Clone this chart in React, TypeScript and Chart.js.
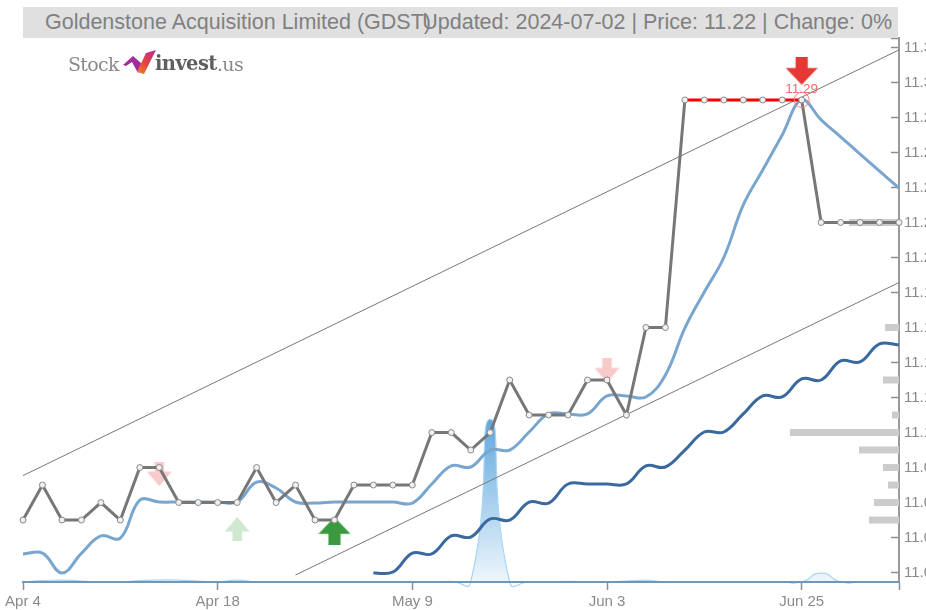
import React, { useEffect, useRef } from "react";
import { Chart, registerables } from "chart.js";

Chart.register(...registerables);

const categories = ["Apr 4","Apr 5","Apr 8","Apr 9","Apr 10","Apr 11","Apr 12","Apr 15","Apr 16","Apr 17","Apr 18","Apr 19","Apr 22","Apr 23","Apr 24","Apr 25","Apr 26","Apr 29","Apr 30","May 1","May 9","May 10","May 13","May 14","May 15","May 16","May 17","May 20","May 21","May 22","Jun 3","Jun 4","Jun 5","Jun 6","Jun 7","Jun 10","Jun 11","Jun 12","Jun 13","Jun 14","Jun 25","Jun 26","Jun 27","Jun 28","Jul 1","Jul 2"];
const labelledDates = ["Apr 4", "Apr 18", "May 9", "Jun 3", "Jun 25"];
const lastDate = "Jul 2";

const price = [11.05,11.07,11.05,11.05,11.06,11.05,11.08,11.08,11.06,11.06,11.06,11.06,11.08,11.06,11.07,11.05,11.05,11.07,11.07,11.07,11.07,11.10,11.10,11.09,11.10,11.13,11.11,11.11,11.11,11.13,11.13,11.11,11.16,11.16,11.29,11.29,11.29,11.29,11.29,11.29,11.29,11.22,11.22,11.22,11.22,11.22];
const fastAverage = [11.0306,11.0311,11.0197,11.031,11.0409,11.0397,11.0614,11.0603,11.0603,11.0603,11.0603,11.0603,11.0717,11.0683,11.0603,11.0597,11.0603,11.0603,11.0603,11.0603,11.0597,11.0706,11.0809,11.0803,11.09,11.09,11.1003,11.1106,11.1106,11.1106,11.1209,11.1209,11.1203,11.1329,11.1597,11.1803,11.2,11.23,11.25,11.27,11.29,11.2786,11.2689,11.2591,11.2494,11.2397];
const slowAverage = [null,null,null,null,null,null,null,null,null,null,null,null,null,null,null,null,null,null,11.0197,11.0203,11.0311,11.0306,11.0409,11.0403,11.0506,11.05,11.0603,11.0597,11.0706,11.0706,11.0706,11.0706,11.0809,11.0803,11.09,11.1003,11.1003,11.1106,11.1209,11.1203,11.1306,11.13,11.1409,11.1403,11.1506,11.15];
const upperChannelEnds: Record<string, number> = { "Apr 4": 11.0754, "Jul 2": 11.3186 };
const lowerChannelEnds: Record<string, number> = { "Apr 24": 11.0186, "Jul 2": 11.1857 };
const volume = [0,0.008,0.012,0.006,0,0,0.008,0.012,0.012,0.006,0,0.012,0,0,0,0,0,0,0,0,0,0,0.004,0,1,0,0,0,0.004,0,0,0.006,0.01,0,0,0,0,0,0,0,0,0.055,0,0,0,0];

const yTicks = [11.32,11.30,11.28,11.26,11.24,11.22,11.20,11.18,11.16,11.14,11.12,11.10,11.08,11.06,11.04,11.02];
const yMin = 11.0146;
const yMax = 11.3254;

const profilePrices = [11.22,11.16,11.13,11.11,11.10,11.09,11.08,11.07,11.06,11.05];
const profileVolumes = [50,14,16,7,109,40,16,11,25,30];

const peakDate = "Jun 25";
const peakPrice = 11.29;
const peakLabel = "11.29";
const signals = [
  { date: "Apr 15", value: 11.0763, up: false, color: "#f8caca" },
  { date: "Jun 3", value: 11.1355, up: false, color: "#f8caca" },
  { date: "Apr 19", value: 11.0449, up: true, color: "#cfe8d0" },
  { date: "Apr 26", value: 11.0437, up: true, color: "#3b9a3f" },
  { date: "Jun 25", value: 11.3067, up: false, color: "#e53935" },
];
const signalSizes = [[25, 24], [25, 24], [25, 24], [32, 28], [32, 28]];

const title = "Goldenstone Acquisition Limited (GDST)";
const subtitle = "Updated: 2024-07-02 | Price: 11.22 | Change: 0%";

function arrowCanvas(w: number, h: number, up: boolean, color: string) {
  const c = document.createElement("canvas");
  c.width = w;
  c.height = h;
  const g = c.getContext("2d")!;
  if (up) {
    g.translate(0, h);
    g.scale(1, -1);
  }
  const stem = w * 0.38;
  const shoulder = h * 0.4;
  g.fillStyle = color;
  g.beginPath();
  g.moveTo((w - stem) / 2, 0);
  g.lineTo((w + stem) / 2, 0);
  g.lineTo((w + stem) / 2, shoulder);
  g.lineTo(w, shoulder);
  g.lineTo(w / 2, h);
  g.lineTo(0, shoulder);
  g.lineTo((w - stem) / 2, shoulder);
  g.closePath();
  g.fill();
  return c;
}

const peakLabelPlugin = {
  id: "peakLabel",
  afterDatasetsDraw(chart: any) {
    const { ctx, scales } = chart;
    ctx.save();
    ctx.font = "13.5px 'Liberation Sans'";
    ctx.fillStyle = "#f66a6a";
    ctx.textAlign = "center";
    ctx.textBaseline = "middle";
    ctx.fillText(peakLabel, scales.x.getPixelForValue(categories.indexOf(peakDate)), scales.y.getPixelForValue(peakPrice) - 11);
    ctx.restore();
  },
};

export default function App() {
  const ref = useRef<HTMLCanvasElement>(null);

  useEffect(() => {
    document.body.style.margin = "0";
    const canvas = ref.current!;
    const profileSets = profilePrices.map((p, i) => ({
      type: "line",
      xAxisID: "profile",
      yAxisID: "y",
      data: [{ x: 0, y: p }, { x: profileVolumes[i], y: p }],
      borderColor: "#cccccc",
      borderWidth: 7,
      borderCapStyle: "butt",
      pointRadius: 0,
      tension: 0,
      clip: false,
    }));
    const signalSets = signals.map((s, i) => ({
      type: "line",
      xAxisID: "x",
      yAxisID: "y",
      data: categories.map((c) => (c === s.date ? s.value : null)),
      showLine: false,
      pointStyle: arrowCanvas(signalSizes[i][0], signalSizes[i][1], s.up, s.color),
      pointRadius: 10,
      clip: false,
    }));
    const chart = new Chart(canvas, {
      data: {
        labels: categories,
        datasets: [
          signalSets[4],
          {
            type: "line",
            data: categories.map((c) => (c === peakDate ? peakPrice : null)),
            showLine: false,
            pointRadius: 7.5,
            pointBackgroundColor: "rgba(0,0,0,0)",
            pointBorderColor: "#f47c7c",
            pointBorderWidth: 1,
          },
          {
            type: "line",
            label: "Price",
            data: price,
            borderColor: "#777777",
            borderWidth: 3,
            tension: 0,
            pointRadius: 3,
            pointBackgroundColor: "#f0f0f0",
            pointBorderColor: "#888888",
            pointBorderWidth: 1,
            segment: {
              borderColor: (ctx: any) => (price[ctx.p0DataIndex] === peakPrice && price[ctx.p1DataIndex] === peakPrice ? "#ff0000" : undefined),
            },
            clip: false,
          },
          {
            type: "line",
            label: "Fast",
            data: fastAverage,
            borderColor: "#79a6cf",
            borderWidth: 3,
            tension: 0.4,
            pointRadius: 0,
          },
          {
            type: "line",
            label: "Slow",
            data: slowAverage,
            borderColor: "#39699e",
            borderWidth: 3,
            tension: 0.4,
            pointRadius: 0,
          },
          {
            type: "line",
            label: "Upper",
            data: categories.map((c) => upperChannelEnds[c] ?? null),
            spanGaps: true,
            borderColor: "#777777",
            borderWidth: 1,
            pointRadius: 0,
            tension: 0,
            clip: false,
          },
          {
            type: "line",
            label: "Lower",
            data: categories.map((c) => lowerChannelEnds[c] ?? null),
            spanGaps: true,
            borderColor: "#777777",
            borderWidth: 1,
            pointRadius: 0,
            tension: 0,
            clip: false,
          },
          signalSets[0],
          signalSets[1],
          signalSets[2],
          signalSets[3],
          {
            type: "line",
            label: "Volume",
            yAxisID: "vol",
            data: volume,
            borderColor: "#a9d6f5",
            borderWidth: 1.2,
            tension: 0.62,
            capBezierPoints: false,
            pointRadius: 0,
            fill: "origin",
            clip: false,
            backgroundColor: (ctx: any) => {
              const { chart: ch } = ctx;
              const area = ch.chartArea;
              if (!area) return "rgba(90,165,220,0.4)";
              const top = ch.scales.vol.getPixelForValue(1);
              const g = ch.ctx.createLinearGradient(0, top, 0, area.bottom);
              g.addColorStop(0, "#5fa8de");
              g.addColorStop(1, "#eef6fc");
              return g;
            },
          },
          ...profileSets,
        ] as any,
      },
      options: {
        animation: false,
        responsive: false,
        layout: { padding: { left: 23, top: 38, right: 0, bottom: 0 } },
        plugins: { legend: { display: false }, title: { display: false }, tooltip: { enabled: false } },
        scales: {
          x: {
            type: "category",
            offset: false,
            border: { color: "#6d97bb", width: 2, z: 2 },
            grid: { drawOnChartArea: false, tickLength: 8, color: "#8f8f8f", tickWidth: 1.5 },
            ticks: {
              autoSkip: false,
              maxRotation: 0,
              padding: 3,
              color: "#8a8a8a",
              font: { family: "'Liberation Sans'", size: 15 },
              callback: (_v: any, i: number, t: any) => {
                const label = categories[t[i].value];
                return labelledDates.includes(label) ? label : "";
              },
            },
            afterBuildTicks: (s: any) => {
              s.ticks = categories
                .map((c, i) => ({ value: i, c }))
                .filter((t) => labelledDates.includes(t.c) || t.c === lastDate)
                .map((t) => ({ value: t.value }));
            },
            afterFit: (s: any) => {
              s.height = 28;
            },
          },
          y: {
            position: "right",
            min: yMin,
            max: yMax,
            border: { color: "#9a9a9a", width: 2 },
            grid: { drawOnChartArea: false, tickLength: -8, color: "#8f8f8f", tickWidth: 1.5 },
            ticks: {
              padding: 13,
              color: "#8a8a8a",
              font: { family: "'Liberation Sans'", size: 15 },
              callback: (v: any) => (v === yMax ? "" : Number(v).toFixed(2)),
            },
            afterBuildTicks: (s: any) => {
              s.ticks = [yMax, ...yTicks].map((value) => ({ value }));
            },
            afterFit: (s: any) => {
              s.width = 27;
            },
          },
          vol: { display: false, min: 0, max: 3.34 },
          profile: { display: false, type: "linear", reverse: true, min: 0, max: 875 },
        },
      } as any,
      plugins: [peakLabelPlugin],
    });
    return () => chart.destroy();
  }, []);

  return (
    <div style={{ position: "relative", width: 926, height: 610, overflow: "hidden" }}>
      <canvas ref={ref} width={926} height={610} style={{ position: "absolute", left: 0, top: 0, display: "block" }} />
      <div style={{ position: "absolute", left: 23, top: 7, width: 875, height: 31, background: "#e0e0e0" }} />
      <div style={{ position: "absolute", left: 45, top: 7, font: "21.5px 'Liberation Sans'", lineHeight: "31px", color: "#808080", whiteSpace: "nowrap" }}>{title}</div>
      <div style={{ position: "absolute", right: 34, top: 7, font: "21.5px 'Liberation Sans'", lineHeight: "31px", color: "#808080", whiteSpace: "nowrap" }}>{subtitle}</div>
      <div style={{ position: "absolute", left: 68, top: 52, height: 24, whiteSpace: "nowrap", color: "#8a8a8a" }}>
        <span style={{ position: "absolute", left: 0, font: "19px 'DejaVu Serif'", lineHeight: "24px", letterSpacing: -0.7 }}>Stock</span>
        <svg style={{ position: "absolute", left: 55, top: -2 }} width="34" height="26" viewBox="0 0 34 26">
          <defs>
            <linearGradient id="lg" x1="0" y1="1" x2="1" y2="0">
              <stop offset="0" stopColor="#f08a1d" />
              <stop offset="0.45" stopColor="#e0453f" />
              <stop offset="1" stopColor="#c0259a" />
            </linearGradient>
          </defs>
          <polygon points="0,15 10,6 19,14 15,23 9,12 3,16" fill="#a32c9c" />
          <polygon points="23,3 33,0 21,24 14,22" fill="url(#lg)" />
        </svg>
        <span style={{ position: "absolute", left: 87, font: "bold 19.5px 'DejaVu Serif'", lineHeight: "24px", color: "#5f5f5f", letterSpacing: -0.6 }}>invest</span>
        <span style={{ position: "absolute", left: 149, font: "19px 'DejaVu Serif'", lineHeight: "24px", letterSpacing: -0.7 }}>.us</span>
      </div>
    </div>
  );
}
